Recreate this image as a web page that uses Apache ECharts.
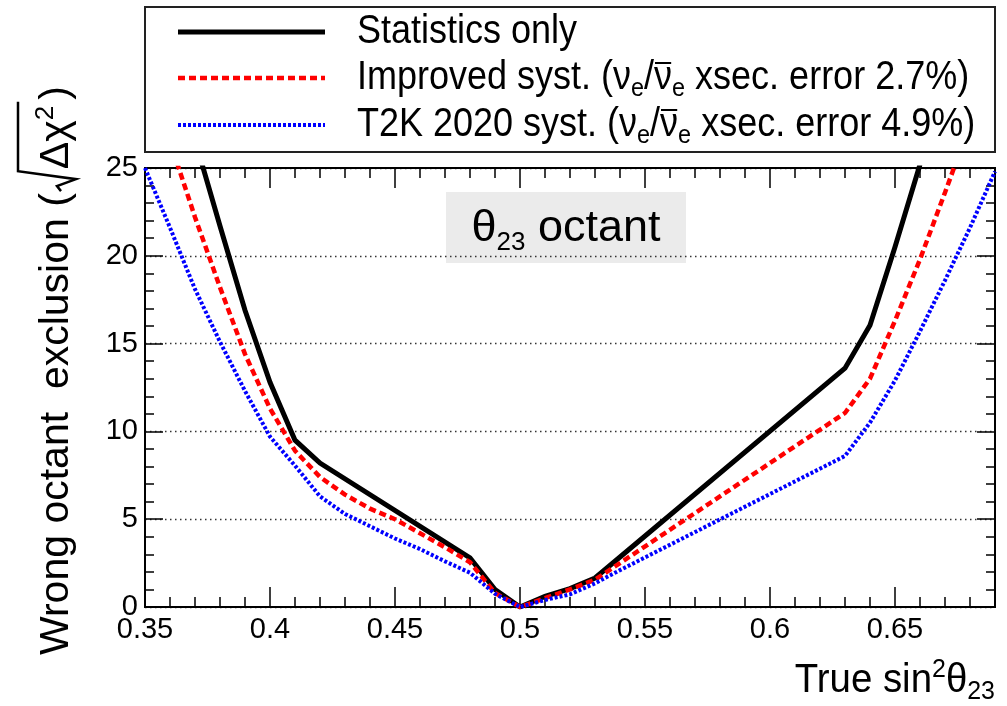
<!DOCTYPE html>
<html>
<head>
<meta charset="utf-8">
<script src="https://cdn.jsdelivr.net/npm/echarts@6/dist/echarts.min.js"></script>
<style>
  html, body { margin: 0; padding: 0; background: #fff; }
  #chart { width: 1007px; height: 706px; }
</style>
</head>
<body>
<div id="chart"></div>
<script>
// Tick labels
const xTickLabels = ['0.35', '0.4', '0.45', '0.5', '0.55', '0.6', '0.65'];
const yTickLabels = ['0', '5', '10', '15', '20', '25'];

// Legend entries
const seriesNames = ['Statistics only', 'Improved syst.', 'T2K 2020 syst.'];
const xsecErrors = ['2.7%', '4.9%'];

// Statistics only
const statX = [0.37, 0.38, 0.39, 0.40, 0.41, 0.42, 0.48, 0.49, 0.50, 0.51, 0.52, 0.53, 0.63, 0.64, 0.65, 0.66];
const statY = [26.6, 21.7, 16.9, 12.8, 9.5, 8.2, 2.8, 1.0, 0.0, 0.6, 1.05, 1.65, 13.6, 16.05, 20.5, 25.2];

// Improved systematics (2.7% nue/nuebar xsec error)
const improvedX = [0.36, 0.37, 0.38, 0.39, 0.40, 0.41, 0.42, 0.43, 0.44, 0.45, 0.46, 0.47, 0.48, 0.49, 0.50, 0.51, 0.52, 0.53, 0.63, 0.64, 0.65, 0.66, 0.67, 0.68];
const improvedY = [26.5, 22.2, 18.2, 14.4, 11.3, 8.9, 7.4, 6.4, 5.6, 5.0, 4.2, 3.4, 2.55, 0.8, 0.0, 0.5, 1.0, 1.55, 11.05, 13.0, 16.3, 19.8, 23.6, 27.5];

// T2K 2020 systematics (4.9% nue/nuebar xsec error)
const t2kX = [0.35, 0.36, 0.37, 0.38, 0.39, 0.40, 0.41, 0.42, 0.43, 0.44, 0.45, 0.46, 0.47, 0.48, 0.49, 0.50, 0.51, 0.52, 0.53, 0.54, 0.63, 0.64, 0.65, 0.66, 0.67, 0.68, 0.69];
const t2kY = [25.0, 21.6, 18.1, 15.1, 12.3, 9.7, 8.05, 6.3, 5.3, 4.6, 3.9, 3.3, 2.6, 1.95, 0.75, 0.0, 0.4, 0.72, 1.35, 2.1, 8.6, 10.5, 12.9, 15.7, 18.6, 21.6, 24.8];

const X_MIN = 0.35, X_MAX = 0.69, X_STEP = 0.05;
const Y_MIN = 0, Y_MAX = 25, Y_STEP = 5;

const SANS = "'Liberation Sans', Arial, Helvetica, sans-serif";

function pairs(xs, ys) { return xs.map((x, i) => [x, ys[i]]); }

function tickLabel(labels, min, step) {
  return function (v) {
    const k = (v - min) / step;
    const i = Math.round(k);
    if (Math.abs(k - i) > 1e-6 || i < 0 || i >= labels.length) return '';
    return labels[i];
  };
}

const measureCtx = document.createElement('canvas').getContext('2d');
function textWidth(str, size) {
  measureCtx.font = size + 'px ' + SANS;
  return measureCtx.measureText(str).width;
}

const chart = echarts.init(document.getElementById('chart'), null, { renderer: 'canvas' });

const gridRect = { left: 145, right: 12, top: 168, bottom: 99 };
const frame = { show: true, onZero: false, lineStyle: { color: '#000', width: 2 } };
const tickStyle = { color: '#000', width: 1.5 };

function xAxisDef(gridIndex, position, interval, len, labels) {
  return {
    gridIndex, type: 'value', position, min: X_MIN, max: X_MAX, interval,
    axisLine: frame,
    axisTick: { show: true, inside: true, length: len, lineStyle: tickStyle },
    axisLabel: labels ? {
      show: true, formatter: tickLabel(xTickLabels, X_MIN, X_STEP),
      color: '#000', fontSize: 29, fontFamily: SANS, margin: 8
    } : { show: false },
    splitLine: { show: false }
  };
}

function yAxisDef(gridIndex, position, interval, len, labels, grid) {
  return {
    gridIndex, type: 'value', position, min: Y_MIN, max: Y_MAX, interval,
    axisLine: frame,
    axisTick: { show: true, inside: true, length: len, lineStyle: tickStyle },
    axisLabel: labels ? {
      show: true, formatter: tickLabel(yTickLabels, Y_MIN, Y_STEP),
      color: '#000', fontSize: 29, fontFamily: SANS, margin: 7
    } : { show: false },
    splitLine: grid ? { show: true, lineStyle: { color: '#333', width: 1.3, type: [1.5, 3.5] } } : { show: false }
  };
}

// Y title: rotated text with a drawn radical sign over the delta-chi^2
const yTitleSize = 41;
const yTitleMain = 'Wrong octant  exclusion (';
const w1 = textWidth(yTitleMain, yTitleSize);
const wDelta = textWidth('\u0394\u03C7', yTitleSize) + textWidth('2', 26) + 2;
const radStart = w1 + 2;
const radTop = -39;
const yTitleGroup = {
  type: 'group',
  x: 57, y: 655,
  rotation: Math.PI / 2,
  children: [
    { type: 'text', x: 0, y: 0,
      style: { text: yTitleMain, fontSize: yTitleSize, fontFamily: SANS, fill: '#000', align: 'left', verticalAlign: 'middle' } },
    { type: 'polyline',
      shape: { points: [[radStart, 4], [radStart + 5, 0], [radStart + 12, 19], [radStart + 20, radTop], [radStart + 24 + wDelta, radTop]] },
      style: { stroke: '#000', lineWidth: 2.5, fill: null } },
    { type: 'text', x: radStart + 22, y: 0,
      style: { text: '\u0394\u03C7{sup|2}', fontSize: yTitleSize, fontFamily: SANS, fill: '#000', align: 'left', verticalAlign: 'middle', lineHeight: 48,
        rich: { sup: { fontSize: 26, fontFamily: SANS, lineHeight: 26, verticalAlign: 'top' } } } },
    { type: 'text', x: radStart + 26 + wDelta, y: 0,
      style: { text: ')', fontSize: yTitleSize, fontFamily: SANS, fill: '#000', align: 'left', verticalAlign: 'middle' } }
  ]
};

// Legend box (condensed text)
const LEG_SIZE = 40, LEG_SUB = 26, LEG_SCALE = 0.9, LEG_X = 357;
const legendRows = [32, 78, 125];
const legendStyle = { fontSize: LEG_SIZE, fontFamily: SANS, fill: '#000', align: 'left', verticalAlign: 'middle', lineHeight: 48,
  rich: { sub: { fontSize: LEG_SUB, fontFamily: SANS, lineHeight: 30, verticalAlign: 'bottom' } } };

function legendText(row, str) {
  return { type: 'text', x: LEG_X, y: row, scaleX: LEG_SCALE, style: Object.assign({}, legendStyle, { text: str }) };
}
// bar over the anti-neutrino symbol
function nuBar(row, name) {
  const pre = textWidth(name + ' (\u03BD', LEG_SIZE) + textWidth('e', LEG_SUB) + textWidth('/', LEG_SIZE);
  const wNu = textWidth('\u03BD', LEG_SIZE);
  return { type: 'line',
    shape: { x1: LEG_X + LEG_SCALE * (pre + 1), y1: row - 15, x2: LEG_X + LEG_SCALE * (pre + wNu - 1), y2: row - 15 },
    style: { stroke: '#000', lineWidth: 2 } };
}

const legendGroup = {
  type: 'group',
  children: [
    { type: 'rect', shape: { x: 145, y: 7, width: 850, height: 145 }, style: { fill: '#fff', stroke: '#222', lineWidth: 2 } },
    { type: 'line', shape: { x1: 178, y1: legendRows[0], x2: 325, y2: legendRows[0] }, style: { stroke: '#000', lineWidth: 5 } },
    { type: 'line', shape: { x1: 178, y1: legendRows[1], x2: 325, y2: legendRows[1] }, style: { stroke: '#ff0000', lineWidth: 4.5, lineDash: [7, 4] } },
    { type: 'line', shape: { x1: 178, y1: legendRows[2], x2: 325, y2: legendRows[2] }, style: { stroke: '#0000ff', lineWidth: 4, lineDash: [3, 2] } },
    legendText(legendRows[0], seriesNames[0]),
    legendText(legendRows[1], seriesNames[1] + ' (\u03BD{sub|e}/\u03BD{sub|e} xsec. error ' + xsecErrors[0] + ')'),
    legendText(legendRows[2], seriesNames[2] + ' (\u03BD{sub|e}/\u03BD{sub|e} xsec. error ' + xsecErrors[1] + ')'),
    nuBar(legendRows[1], seriesNames[1]),
    nuBar(legendRows[2], seriesNames[2])
  ]
};

// Octant tag
const octantGroup = {
  type: 'group',
  children: [
    { type: 'rect', shape: { x: 446, y: 192, width: 240, height: 71 }, style: { fill: '#ebebeb' } },
    { type: 'text', x: 566, y: 229,
      style: { text: '\u03B8{sub|23} octant', fontSize: 45, fontFamily: SANS, fill: '#000', align: 'center', verticalAlign: 'middle', lineHeight: 54,
        rich: { sub: { fontSize: 26, fontFamily: SANS, lineHeight: 34, verticalAlign: 'bottom' } } } }
  ]
};

// X title
const xTitle = {
  type: 'text', x: 995, y: 681, scaleX: 0.96,
  style: { text: 'True sin{sup|2}\u03B8{sub|23}', fontSize: 40, fontFamily: SANS, fill: '#000', align: 'right', verticalAlign: 'middle', lineHeight: 48,
    rich: {
      sup: { fontSize: 26, fontFamily: SANS, lineHeight: 30, verticalAlign: 'top' },
      sub: { fontSize: 26, fontFamily: SANS, lineHeight: 18, verticalAlign: 'bottom' }
    } }
};

const option = {
  animation: false,
  backgroundColor: '#fff',
  grid: [Object.assign({}, gridRect), Object.assign({}, gridRect)],
  xAxis: [
    xAxisDef(0, 'bottom', X_STEP, 20, true),
    xAxisDef(0, 'top', X_STEP, 20, false),
    xAxisDef(1, 'bottom', 0.01, 10, false),
    xAxisDef(1, 'top', 0.01, 10, false)
  ],
  yAxis: [
    yAxisDef(0, 'left', Y_STEP, 18, true, true),
    yAxisDef(0, 'right', Y_STEP, 18, false, false),
    yAxisDef(1, 'left', 1, 9, false, false),
    yAxisDef(1, 'right', 1, 9, false, false)
  ],
  series: [
    { name: seriesNames[0], type: 'line', xAxisIndex: 0, yAxisIndex: 0, data: pairs(statX, statY),
      symbol: 'none', clip: true, lineStyle: { color: '#000', width: 5, join: 'miter' }, z: 3 },
    { name: seriesNames[1], type: 'line', xAxisIndex: 0, yAxisIndex: 0, data: pairs(improvedX, improvedY),
      symbol: 'none', clip: true, lineStyle: { color: '#ff0000', width: 4.5, type: [7, 4] }, z: 4 },
    { name: seriesNames[2], type: 'line', xAxisIndex: 0, yAxisIndex: 0, data: pairs(t2kX, t2kY),
      symbol: 'none', clip: true, lineStyle: { color: '#0000ff', width: 4, type: [3, 2] }, z: 5 }
  ],
  graphic: [legendGroup, octantGroup, yTitleGroup, xTitle]
};

chart.setOption(option);
</script>
</body>
</html>
